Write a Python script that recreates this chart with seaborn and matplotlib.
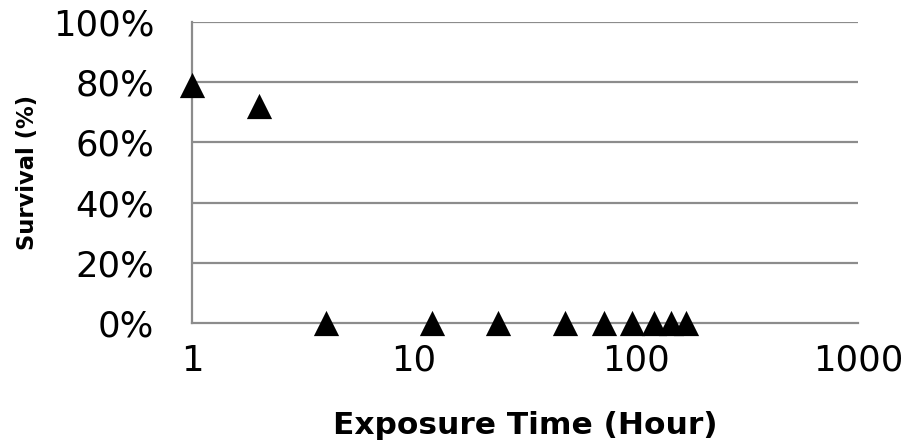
import matplotlib
matplotlib.use("Agg")
import matplotlib.pyplot as plt
import seaborn as sns
import pandas as pd
from matplotlib.ticker import FuncFormatter, FixedLocator

# Survival over exposure time
hours = [1, 2, 4, 12, 24, 48, 72, 96, 120, 144, 168]
survival = [0.79, 0.72, 0, 0, 0, 0, 0, 0, 0, 0, 0]
x_ticks = [1, 10, 100, 1000]
y_ticks = [0, 0.2, 0.4, 0.6, 0.8, 1.0]

df = pd.DataFrame({"hours": hours, "survival": survival})

sns.set_style("white")
plt.rcParams["font.family"] = ["DejaVu Sans"]
plt.rcParams["text.color"] = "black"
plt.rcParams["axes.labelcolor"] = "black"

fig = plt.figure(figsize=(9.09, 4.47), dpi=100)
ax = fig.add_axes([192 / 909, 1 - 323 / 447, (858 - 192) / 909, (323 - 22) / 447])

grid_col = "#8c8c8c"
for v in y_ticks[1:]:
    ax.axhline(v, color=grid_col, lw=1.6, zorder=0)

sns.scatterplot(data=df, x="hours", y="survival", marker="^", s=330,
                color="black", edgecolor="black", linewidth=0, ax=ax,
                zorder=3, clip_on=False)

ax.set_xscale("log")
ax.set_xlim(1, 1000)
ax.set_ylim(0, 1.0)
ax.xaxis.set_major_locator(FixedLocator(x_ticks))
ax.xaxis.set_minor_locator(FixedLocator([]))
ax.xaxis.set_major_formatter(FuncFormatter(lambda v, p: f"{v:g}"))
ax.yaxis.set_major_locator(FixedLocator(y_ticks))
ax.yaxis.set_major_formatter(FuncFormatter(lambda v, p: f"{v * 100:.0f}%"))

for side in ["top", "right"]:
    ax.spines[side].set_visible(False)
for side in ["left", "bottom"]:
    ax.spines[side].set_color(grid_col)
    ax.spines[side].set_linewidth(1.6)

ax.tick_params(axis="both", which="major", direction="out", color=grid_col,
               width=1.6, labelsize=25.5, labelcolor="black")
ax.tick_params(axis="y", length=9, pad=18)
ax.tick_params(axis="x", length=7, pad=8)

ax.set_xlabel("Exposure Time (Hour)", fontsize=22.5, fontweight="bold",
              labelpad=24, color="black")
ax.set_ylabel("Survival (%)", fontsize=16.3, fontweight="bold",
              labelpad=10, color="black")

fig.savefig("out.png", dpi=100)
